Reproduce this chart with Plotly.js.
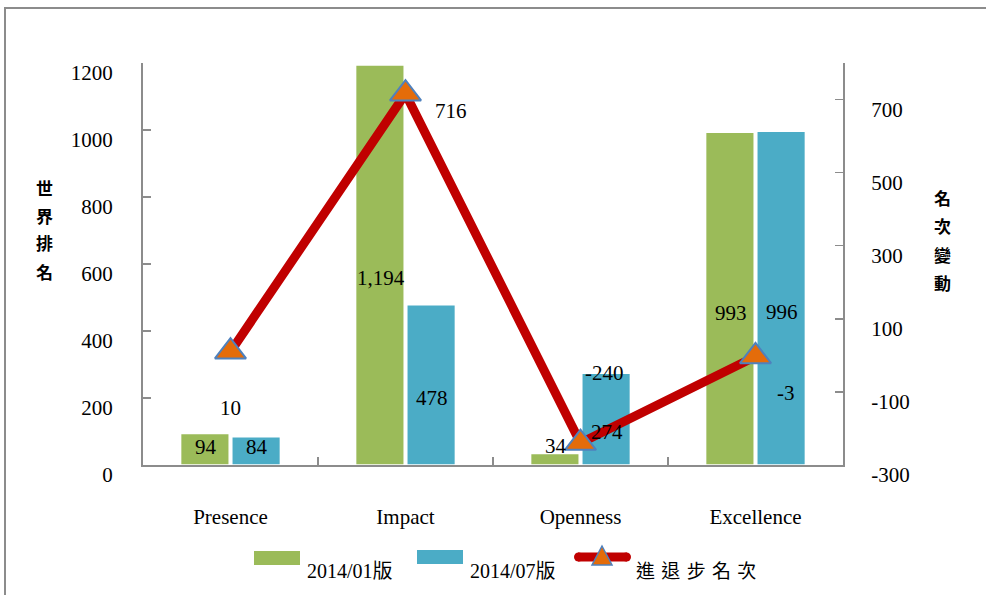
<!DOCTYPE html>
<html>
<head>
<meta charset="utf-8">
<script src="https://cdn.plot.ly/plotly-3.0.1.min.js"></script>
<style>
  html, body { margin: 0; padding: 0; background: #ffffff; }
  #chart { width: 986px; height: 595px; }
</style>
</head>
<body>
<div id="chart"></div>
<script>
// ---- data ----
const categories = ['Presence', 'Impact', 'Openness', 'Excellence'];
const rank201401 = [94, 1194, 34, 993];
const rank201407 = [84, 478, 274, 996];
const rankChange = [10, 716, -240, -3];
const leftTicks = [0, 200, 400, 600, 800, 1000, 1200];
const rightTicks = [-300, -100, 100, 300, 500, 700];
const seriesNames = ['2014/01版', '2014/07版', '進退步名次'];
const leftTitle = '世界排名';
const rightTitle = '名次變動';

// ---- styles ----
const GREEN = '#9BBB59', BLUE = '#4BACC6', RED = '#C00000', ORANGE = '#E46C0A', EDGE = '#4F81BD';
const SERIF = 'Liberation Serif';
const CJK = 'Noto Sans CJK TC';
const AXIS_GREY = '#8c8c8c';

// plot area geometry (pixels) for paper conversions
const L = 143, R = 843, T = 63, B = 465;
const px = x => (x - L) / (R - L);
const py = y => (B - y) / (B - T);

const traces = [
  {
    type: 'bar', name: seriesNames[0], x: categories, y: rank201401,
    marker: { color: GREEN, line: { color: '#ffffff', width: 1.5 } },
    hoverinfo: 'x+y', showlegend: false
  },
  {
    type: 'bar', name: seriesNames[1], x: categories, y: rank201407,
    marker: { color: BLUE, line: { color: '#ffffff', width: 1.5 } },
    hoverinfo: 'x+y', showlegend: false
  },
  {
    type: 'scatter', mode: 'lines', name: seriesNames[2], x: categories, y: rankChange,
    yaxis: 'y2', line: { color: RED, width: 9 }, showlegend: false, hoverinfo: 'skip'
  },
  {
    type: 'scatter', mode: 'markers', name: seriesNames[2], x: categories, y: rankChange,
    yaxis: 'y2', marker: { symbol: 'triangle-up', size: 27, color: ORANGE, line: { color: EDGE, width: 2 } },
    showlegend: false, hoverinfo: 'x+y'
  }
];

// label offsets (pixels) — placement only
const barLabelShift1 = [2, -13, 13, -14];
const barLabelShift2 = [4, -13, -13, -14];
const lineLabelShift = [[0, -56], [45, -17], [24, 70], [30, -37]];

const annotations = [];
categories.forEach((c, i) => {
  annotations.push({
    x: c, y: rank201401[i] / 2, xref: 'x', yref: 'y', xshift: -25, yshift: barLabelShift1[i],
    xanchor: 'center', yanchor: 'middle',
    text: rank201401[i].toLocaleString('en-US'), showarrow: false,
    font: { family: SERIF, size: 21, color: '#000' }
  });
  annotations.push({
    x: c, y: rank201407[i] / 2, xref: 'x', yref: 'y', xshift: 26, yshift: barLabelShift2[i],
    xanchor: 'center', yanchor: 'middle',
    text: rank201407[i].toLocaleString('en-US'), showarrow: false,
    font: { family: SERIF, size: 21, color: '#000' }
  });
  annotations.push({
    x: c, y: rankChange[i], xref: 'x', yref: 'y2',
    xshift: lineLabelShift[i][0], yshift: lineLabelShift[i][1],
    xanchor: 'center', yanchor: 'middle',
    text: String(rankChange[i]), showarrow: false,
    font: { family: SERIF, size: 21, color: '#000' }
  });
});

// vertical axis titles (one character per line, Excel-style stacking)
leftTitle.split('').forEach((ch, k) => {
  annotations.push({
    x: px(44), y: py(187 + k * 28), xref: 'paper', yref: 'paper', showarrow: false,
    xanchor: 'center', yanchor: 'middle', text: ch,
    font: { family: CJK, size: 17, color: '#000', weight: 'bold' }
  });
});
rightTitle.split('').forEach((ch, k) => {
  annotations.push({
    x: px(942), y: py(197 + k * 28.5), xref: 'paper', yref: 'paper', showarrow: false,
    xanchor: 'center', yanchor: 'middle', text: ch,
    font: { family: CJK, size: 17, color: '#000', weight: 'bold' }
  });
});

// custom legend texts
annotations.push({ x: px(305), y: py(571), xref: 'paper', yref: 'paper', xanchor: 'left', yanchor: 'middle', showarrow: false,
  text: seriesNames[0], font: { family: SERIF + ', ' + CJK, size: 20, color: '#000' } });
annotations.push({ x: px(468), y: py(571), xref: 'paper', yref: 'paper', xanchor: 'left', yanchor: 'middle', showarrow: false,
  text: seriesNames[1], font: { family: SERIF + ', ' + CJK, size: 20, color: '#000' } });
annotations.push({ x: px(634), y: py(569), xref: 'paper', yref: 'paper', xanchor: 'left', yanchor: 'middle', showarrow: false,
  text: seriesNames[2].split('').join('\u2004'), font: { family: CJK, size: 19, color: '#000' } });

const shapes = [
  // outer frame
  { type: 'rect', xref: 'paper', yref: 'paper', x0: px(5), x1: px(1100), y0: py(700), y1: py(8),
    line: { color: AXIS_GREY, width: 2 }, fillcolor: 'rgba(0,0,0,0)', layer: 'below' },
  // legend swatches
  { type: 'rect', xref: 'paper', yref: 'paper', x0: px(254), x1: px(300), y0: py(565), y1: py(551),
    line: { width: 0 }, fillcolor: GREEN },
  { type: 'rect', xref: 'paper', yref: 'paper', x0: px(417), x1: px(463), y0: py(564), y1: py(550),
    line: { width: 0 }, fillcolor: BLUE },
  { type: 'line', xref: 'paper', yref: 'paper', x0: px(578), x1: px(627), y0: py(557), y1: py(557),
    line: { color: RED, width: 9 } },
  { type: 'circle', xref: 'paper', yref: 'paper', x0: px(574), x1: px(583), y0: py(561.5), y1: py(552.5),
    line: { width: 0 }, fillcolor: RED },
  { type: 'circle', xref: 'paper', yref: 'paper', x0: px(622), x1: px(631), y0: py(561.5), y1: py(552.5),
    line: { width: 0 }, fillcolor: RED },
  { type: 'path', xref: 'paper', yref: 'paper',
    path: `M ${px(592)} ${py(565)} L ${px(612)} ${py(565)} L ${px(602)} ${py(546)} Z`,
    line: { color: EDGE, width: 1.5 }, fillcolor: ORANGE }
];

const layout = {
  width: 986, height: 595,
  margin: { l: L, r: 986 - R, t: T, b: 595 - B },
  paper_bgcolor: '#ffffff', plot_bgcolor: '#ffffff',
  barmode: 'group', bargap: 0.415, bargroupgap: 0.05,
  showlegend: false,
  font: { family: SERIF },
  xaxis: {
    type: 'category', range: [-0.5, 3.5],
    showline: true, linecolor: AXIS_GREY, linewidth: 2,
    ticks: 'inside', tickson: 'boundaries', ticklen: 8, tickcolor: AXIS_GREY, tickwidth: 1.5,
    showgrid: false, zeroline: false,
    ticklabelstandoff: 32,
    tickfont: { family: SERIF, size: 21, color: '#000' }
  },
  yaxis: {
    range: [0, 1200], tickvals: leftTicks, ticktext: leftTicks.map(String),
    showline: true, linecolor: AXIS_GREY, linewidth: 2,
    ticks: 'inside', ticklen: 8, tickcolor: AXIS_GREY, tickwidth: 1.5,
    showgrid: false, zeroline: false,
    ticklabelstandoff: 24, ticklabelshift: 10,
    tickfont: { family: SERIF, size: 21, color: '#000' }
  },
  yaxis2: {
    overlaying: 'y', side: 'right', range: [-300, 800], tickvals: rightTicks, ticktext: rightTicks.map(String),
    showline: true, linecolor: AXIS_GREY, linewidth: 2,
    ticks: 'inside', ticklen: 8, tickcolor: AXIS_GREY, tickwidth: 1.5,
    showgrid: false, zeroline: false,
    ticklabelstandoff: 22, ticklabelshift: 10,
    tickfont: { family: SERIF, size: 21, color: '#000' }
  },
  annotations: annotations,
  shapes: shapes
};

Plotly.newPlot('chart', traces, layout, { displayModeBar: false, staticPlot: true });
</script>
</body>
</html>
